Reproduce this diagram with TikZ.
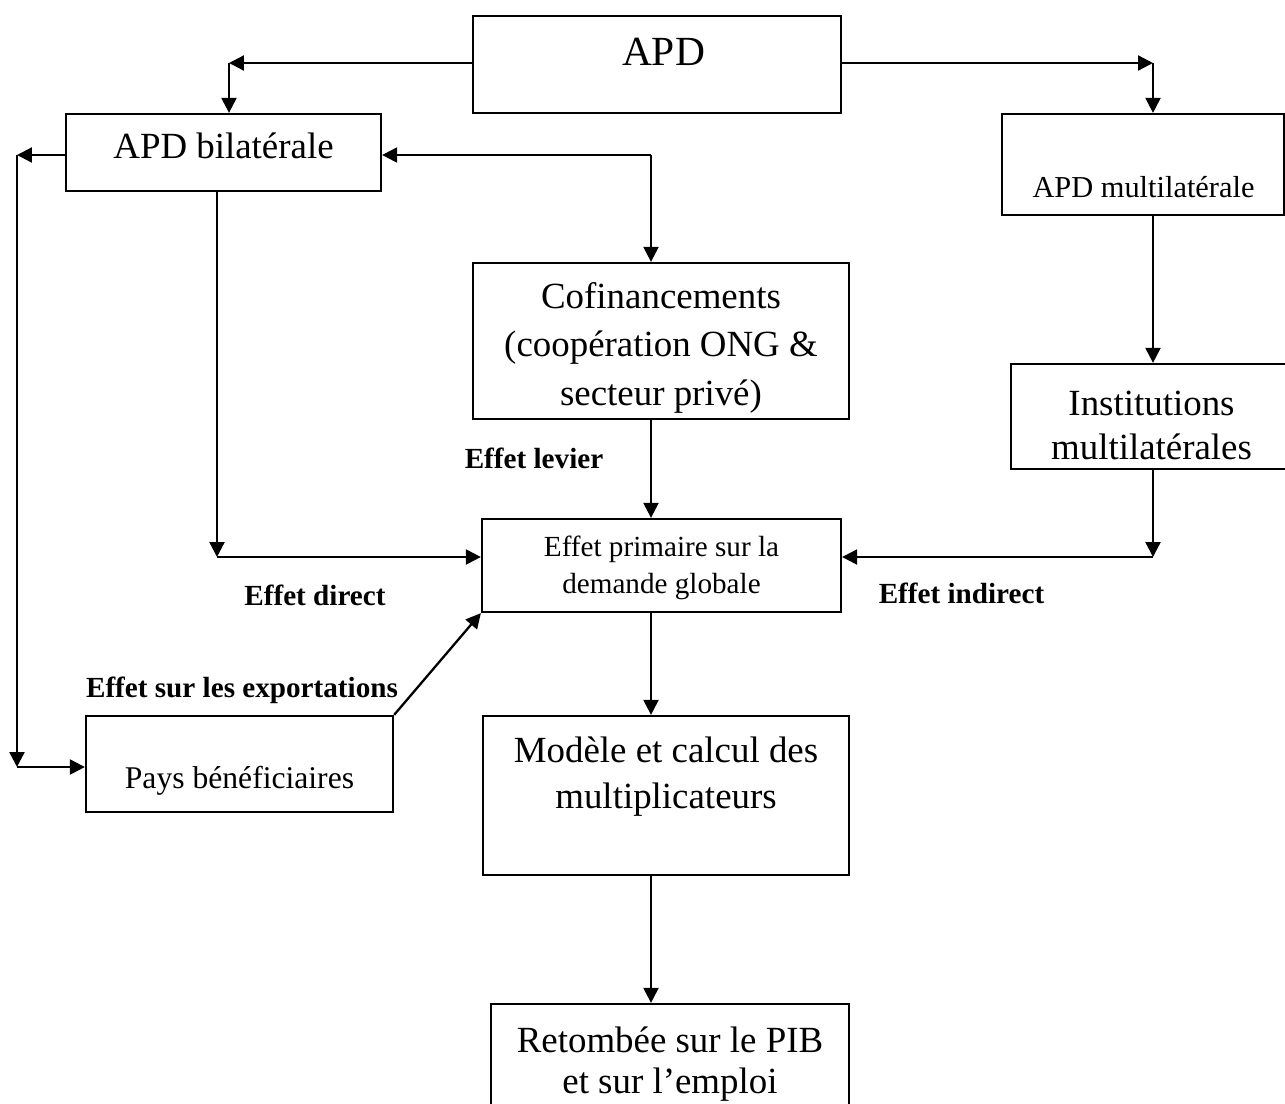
\documentclass[tikz,border=0pt]{standalone}
\usepackage{fontspec}
\setmainfont{Liberation Serif}
\usetikzlibrary{arrows.meta}
\tikzset{
  box/.style={draw, line width=1.3pt, inner sep=0pt},
  sz/.style 2 args={minimum width=#1*0.02cm, minimum height=#2*0.02cm},
  txt/.style={inner sep=0pt, anchor=base, align=center, font=\fontsize{21}{27.5}\selectfont},
  lbl/.style={inner sep=0pt, anchor=base, font=\fontsize{16.6}{20}\selectfont\bfseries},
  arr/.style={line width=1.3pt, -{Triangle[length=8.5pt,width=8.5pt]}},
}
\begin{document}
\begin{tikzpicture}[x=0.02cm, y=-0.02cm]
  \useasboundingbox (0,0) rectangle (1285,1103);
  \clip (0,0) rectangle (1285,1103);
  % boxes
  \node[box,sz={368}{97}] (apd) at (657,64.5) {};
  \node[box,sz={315}{77}] (bil) at (223.5,152.5) {};
  \node[box,sz={282}{101}] (multi) at (1143,164.5) {};
  \node[box,sz={376}{156}] (cofin) at (661,341) {};
  \node[box,sz={280}{105}] (inst) at (1151,416.5) {};
  \node[box,sz={359}{93}] (prim) at (661.5,565.5) {};
  \node[box,sz={307}{96}] (pays) at (239.5,764) {};
  \node[box,sz={366}{159}] (model) at (666,795.5) {};
  \node[box,sz={358}{130}] (ret) at (670,1069) {};
  % texts (base = last line)
  \node[txt,font=\fontsize{23.6}{28}\selectfont] (apdT) at (663.5,65) {APD};
  \node[txt] (bilT) at (223.5,158) {APD bilatérale};
  \node[txt,font=\fontsize{17.3}{21}\selectfont] (multiT) at (1143.5,197) {APD multilatérale};
  \node[txt] (cofinT) at (661,405) {Cofinancements\\(coopération ONG \&\\secteur privé)};
  \node[txt,font=\fontsize{21}{25}\selectfont] (instT) at (1151.5,459) {Institutions\\multilatérales};
  \node[txt,font=\fontsize{16.6}{21}\selectfont] (primT) at (661.5,593) {Effet primaire sur la\\demande globale};
  \node[txt,font=\fontsize{18}{22}\selectfont] (paysT) at (239.5,788) {Pays bénéficiaires};
  \node[txt,font=\fontsize{21}{26}\selectfont] (modelT) at (666,808) {Modèle et calcul des\\multiplicateurs};
  \node[txt,font=\fontsize{21}{23}\selectfont] (retT) at (670,1093) {Retombée sur le PIB\\et sur l’emploi};
  \node[lbl] (levier) at (534,468) {Effet levier};
  \node[lbl] (direct) at (315,605) {Effet direct};
  \node[lbl] (export) at (242,697) {Effet sur les exportations};
  \node[lbl] (indirect) at (961.5,603) {Effet indirect};
  % corners
  \coordinate (kA) at (229,63);
  \coordinate (kB) at (1153,63);
  \coordinate (kC) at (17,155);
  \coordinate (kD) at (17,767);
  \coordinate (kE) at (217,557);
  \coordinate (kF) at (651,155);
  \coordinate (kG) at (1153,557);
  % connectors
  \draw[arr] (apd.west |- kA) -- (kA);
  \draw[arr] (kA) -- (kA |- bil.north);
  \draw[arr] (apd.east |- kB) -- (kB);
  \draw[arr] (kB) -- (kB |- multi.north);
  \draw[arr] (bil.west |- kC) -- (kC);
  \draw[arr] (kC) -- (kD);
  \draw[arr] (kD) -- (kD -| pays.west);
  \draw[arr] (kE |- bil.south) -- (kE);
  \draw[arr] (kE) -- (kE -| prim.west);
  \draw[arr] (kF) -- (kF -| bil.east);
  \draw[arr] (kF) -- (kF |- cofin.north);
  \draw[arr] (kF |- cofin.south) -- (kF |- prim.north);
  \draw[arr] (kB |- multi.south) -- (kB |- inst.north);
  \draw[arr] (kG |- inst.south) -- (kG);
  \draw[arr] (kG) -- (kG -| prim.east);
  \draw[arr] (pays.north east) -- (prim.south west);
  \draw[arr] (kF |- prim.south) -- (kF |- model.north);
  \draw[arr] (kF |- model.south) -- (kF |- ret.north);
\end{tikzpicture}
\end{document}
